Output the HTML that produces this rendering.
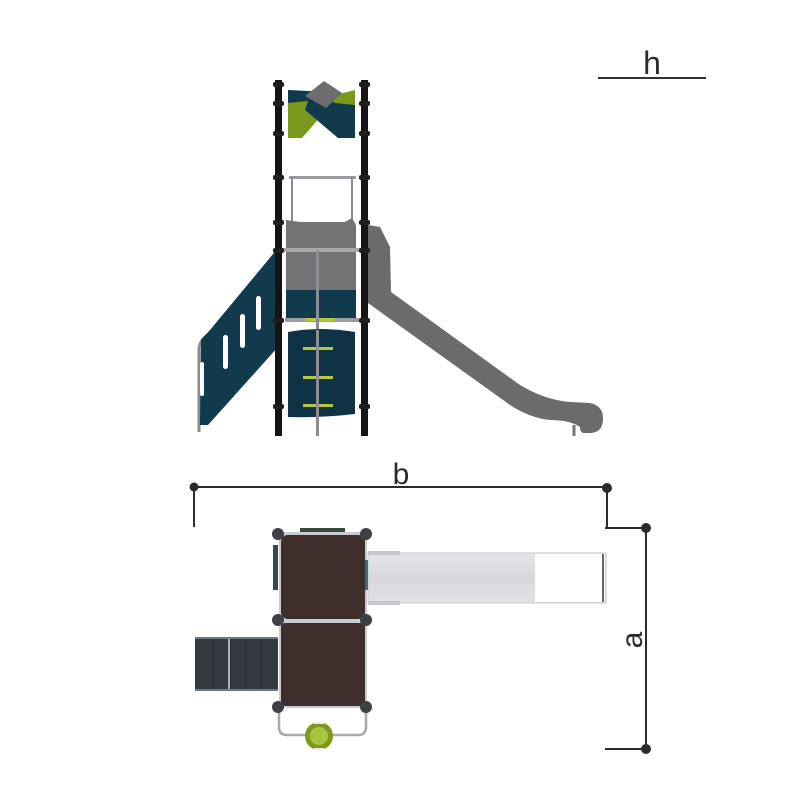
<!DOCTYPE html>
<html><head><meta charset="utf-8"><style>
html,body{margin:0;padding:0;background:#fff;}
svg{display:block;}
text{font-family:"Liberation Sans",sans-serif;fill:#2b2b2b;}
</style></head><body>
<svg width="800" height="800" viewBox="0 0 800 800" xmlns="http://www.w3.org/2000/svg">
<!-- h scale -->
<line x1="598" y1="78" x2="706" y2="78" stroke="#333" stroke-width="2"/>
<text x="652" y="74" font-size="32" text-anchor="middle">h</text>

<!-- slide side view -->
<path d="M368,225 L380,227 L390,247 L391,292 L520,385 Q545,400 570,402 L590,403 Q604,406 603,420 Q602,433 590,433 L584,433 Q580,433 580,427 Q570,420 550,420 Q530,418 510,405 L368,303 Z" fill="#6b6b6d"/>
<line x1="574" y1="425" x2="574" y2="436" stroke="#777" stroke-width="3"/>

<!-- top panel -->
<polygon points="288,90 330,92 318,103 288,103" fill="#123a4d"/>
<polygon points="288,103 318,100 322,115 302,138 288,138" fill="#7a9a1e"/>
<polygon points="310,95 355,105 355,138 338,138 305,110" fill="#123a4d"/>
<polygon points="327,97 355,90 355,105 335,103" fill="#7a9a1e"/>
<polygon points="324,81 342,93 326,108 305,96" fill="#6d6d6f"/>

<!-- frame -->
<rect x="289" y="176" width="67" height="3" fill="#9a9aa0"/>
<rect x="291" y="177" width="2" height="145" fill="#8a8a90"/>
<rect x="351" y="177" width="2" height="145" fill="#8a8a90"/>
<polygon points="286,220 300,222 345,222 352,218 356,225 356,290 286,290" fill="#737375"/>
<rect x="286" y="290" width="70" height="30" fill="#123a4d"/>
<rect x="279" y="248" width="86" height="4" fill="#a8a8ae"/>
<rect x="285" y="318" width="74" height="4" fill="#9a9aa0"/>
<rect x="305" y="318" width="30" height="3" fill="#b6c83a"/>
<rect x="316" y="250" width="3" height="186" fill="#8c8c92"/>

<!-- front panel -->
<path d="M288,332 Q320,326 355,332 L355,414 Q320,418 288,417 Z" fill="#0f3345"/>
<rect x="303" y="347" width="30" height="3" fill="#b6c83a"/>
<rect x="303" y="376" width="30" height="3" fill="#b6c83a"/>
<rect x="303" y="404" width="30" height="3" fill="#b6c83a"/>
<rect x="316" y="330" width="3" height="106" fill="#8c8c92"/>

<!-- climbing wall -->
<path d="M199,432 L199,350 Q199,340 210,333" fill="none" stroke="#8a8a90" stroke-width="3"/>
<polygon points="278,248 210,330 201,340 200,425 208,425 278,347" fill="#123a4d"/>
<rect x="223" y="335" width="5" height="34" rx="2.5" fill="#fff"/>
<rect x="240" y="314" width="5" height="34" rx="2.5" fill="#fff"/>
<rect x="256" y="296" width="5" height="34" rx="2.5" fill="#fff"/>
<rect x="200" y="362" width="4" height="34" rx="2" fill="#fff"/>

<!-- posts -->
<rect x="275" y="80" width="7" height="356" fill="#141414"/>
<rect x="361" y="80" width="7" height="356" fill="#141414"/>
<g fill="#1e1e1e">
<rect x="273" y="82" width="11" height="5" rx="2"/><rect x="359" y="82" width="11" height="5" rx="2"/>
<rect x="273" y="101" width="11" height="5" rx="2"/><rect x="359" y="101" width="11" height="5" rx="2"/>
<rect x="273" y="131" width="11" height="5" rx="2"/><rect x="359" y="131" width="11" height="5" rx="2"/>
<rect x="273" y="175" width="11" height="5" rx="2"/><rect x="359" y="175" width="11" height="5" rx="2"/>
<rect x="273" y="220" width="11" height="5" rx="2"/><rect x="359" y="220" width="11" height="5" rx="2"/>
<rect x="273" y="248" width="11" height="5" rx="2"/><rect x="359" y="248" width="11" height="5" rx="2"/>
<rect x="273" y="318" width="11" height="5" rx="2"/><rect x="359" y="318" width="11" height="5" rx="2"/>
<rect x="273" y="404" width="11" height="5" rx="2"/><rect x="359" y="404" width="11" height="5" rx="2"/>
</g>

<!-- dimension b -->
<line x1="194" y1="487" x2="607" y2="487" stroke="#2b2b2b" stroke-width="2"/>
<line x1="194" y1="487" x2="194" y2="527" stroke="#2b2b2b" stroke-width="2"/>
<line x1="607" y1="487" x2="607" y2="528" stroke="#2b2b2b" stroke-width="2"/>
<circle cx="194" cy="487" r="4.5" fill="#2b2b2b"/>
<circle cx="607" cy="488" r="5" fill="#2b2b2b"/>
<text x="401" y="484" font-size="30" text-anchor="middle">b</text>

<!-- dimension a -->
<line x1="605" y1="528" x2="646" y2="528" stroke="#2b2b2b" stroke-width="2"/>
<line x1="605" y1="749" x2="646" y2="749" stroke="#2b2b2b" stroke-width="2"/>
<line x1="646" y1="528" x2="646" y2="749" stroke="#2b2b2b" stroke-width="2"/>
<circle cx="646" cy="528" r="5" fill="#2b2b2b"/>
<circle cx="646" cy="749" r="5" fill="#2b2b2b"/>
<text x="0" y="0" font-size="30" text-anchor="middle" transform="translate(642,640) rotate(-90)">a</text>

<!-- top view -->
<defs><linearGradient id="sl" x1="0" y1="0" x2="0" y2="1"><stop offset="0" stop-color="#e6e6ea"/><stop offset="0.5" stop-color="#d6d6dc"/><stop offset="1" stop-color="#e2e2e6"/></linearGradient></defs>
<rect x="368" y="553" width="238" height="50" fill="url(#sl)" stroke="#c8c8cc" stroke-width="1"/>
<rect x="535" y="554" width="70" height="48" fill="#fff"/>
<line x1="603" y1="554" x2="603" y2="602" stroke="#333" stroke-width="1.5"/>
<rect x="368" y="551" width="32" height="4" fill="#c8c8cc"/>
<rect x="368" y="601" width="32" height="4" fill="#c8c8cc"/>

<rect x="195" y="638" width="83" height="52" fill="#353a42"/>
<g stroke="#22262c" stroke-width="1"><line x1="213" y1="638" x2="213" y2="690"/><line x1="230" y1="638" x2="230" y2="690"/><line x1="246" y1="638" x2="246" y2="690"/><line x1="261" y1="638" x2="261" y2="690"/></g>
<line x1="229" y1="638" x2="229" y2="690" stroke="#ddd" stroke-width="1.5"/>
<line x1="195" y1="638" x2="278" y2="638" stroke="#6a7a88" stroke-width="2"/>
<line x1="195" y1="690" x2="278" y2="690" stroke="#6a7a88" stroke-width="2"/>

<path d="M279,707 L279,727 Q279,735 287,735 L358,735 Q366,735 366,727 L366,707" fill="none" stroke="#a8aab0" stroke-width="2.5"/>
<circle cx="319" cy="736" r="14" fill="#7a9a1e"/>
<circle cx="319" cy="736" r="9" fill="#a6c640"/>
<rect x="314" y="722" width="10" height="2" fill="#eee"/>
<rect x="314" y="748" width="10" height="2" fill="#eee"/>

<rect x="279" y="532" width="88" height="90" fill="#c8ccd2"/>
<rect x="279" y="620" width="88" height="88" fill="#c8ccd2"/>
<rect x="281" y="535" width="84" height="84" rx="7" fill="#3f2f2b"/>
<rect x="281" y="623" width="84" height="83" rx="4" fill="#3f2f2b"/>
<rect x="273" y="545" width="5" height="45" fill="#2e4a5a"/>
<rect x="365" y="560" width="3" height="30" fill="#3a6a8a"/>
<rect x="300" y="528" width="45" height="4" fill="#3a4a3a"/>
<g fill="#3d4046">
<circle cx="278" cy="534" r="6"/><circle cx="366" cy="534" r="6"/>
<circle cx="278" cy="620" r="6"/><circle cx="366" cy="620" r="6"/>
<circle cx="278" cy="707" r="6"/><circle cx="366" cy="707" r="6"/>
</g>
</svg>
</body></html>
